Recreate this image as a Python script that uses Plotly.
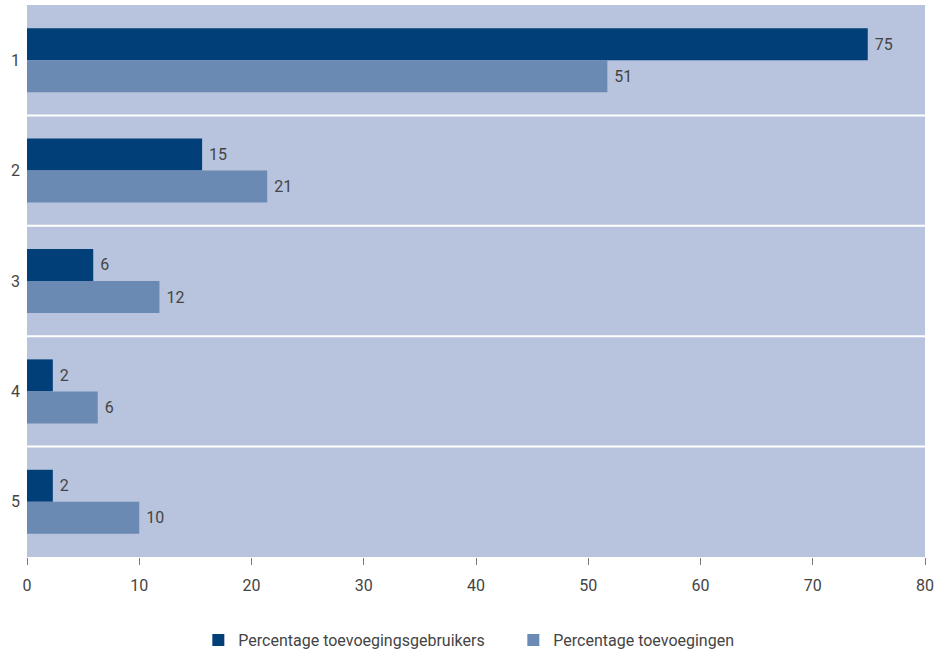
import plotly.graph_objects as go

# === Data ===
categories = ['1', '2', '3', '4', '5']
gebruikers = [74.9, 15.6, 5.9, 2.3, 2.3]
gebruikers_labels = ['75', '15', '6', '2', '2']
toevoegingen = [51.7, 21.4, 11.8, 6.3, 10.0]
toevoegingen_labels = ['51', '21', '12', '6', '10']
x_ticks = [0, 10, 20, 30, 40, 50, 60, 70, 80]

DARK = '#003f78'
LIGHT = '#6a89b3'
BG = '#b8c4dd'
TEXT = '#444444'
FONT = 'Roboto, sans-serif'

fig = go.Figure()

fig.add_trace(go.Bar(
    y=categories, x=gebruikers, orientation='h',
    name='Percentage toevoegingsgebruikers',
    marker=dict(color=DARK, line=dict(width=0)),
    text=[' ' + t for t in gebruikers_labels],
    textposition='outside', cliponaxis=False,
    textfont=dict(color=TEXT, size=16, family=FONT),
))
fig.add_trace(go.Bar(
    y=categories, x=toevoegingen, orientation='h',
    name='Percentage toevoegingen',
    marker=dict(color=LIGHT, line=dict(width=0)),
    text=[' ' + t for t in toevoegingen_labels],
    textposition='outside', cliponaxis=False,
    textfont=dict(color=TEXT, size=16, family=FONT),
))

# witte scheidingslijnen tussen de categorieen
for i in range(len(categories) - 1):
    fig.add_shape(type='line', xref='paper', yref='y',
                  x0=0, x1=1, y0=i + 0.5, y1=i + 0.5,
                  line=dict(color='white', width=2), layer='above')

fig.update_layout(
    width=945, height=652,
    barmode='group', bargap=0.42, bargroupgap=0,
    paper_bgcolor='white', plot_bgcolor=BG,
    font=dict(family=FONT, color=TEXT, size=16),
    margin=dict(l=27, r=20, t=5, b=95),
    showlegend=True,
    legend=dict(
        orientation='h', x=0.1908, xanchor='left',
        yref='container', y=0.0184, yanchor='middle',
        font=dict(size=16, color=TEXT, family=FONT),
        traceorder='normal', itemwidth=30,
        entrywidth=270, entrywidthmode='pixels',
    ),
)

fig.update_xaxes(
    range=[0, 80], tickvals=x_ticks, showgrid=False, zeroline=False,
    ticks='outside', ticklen=7, tickcolor='#777777', tickwidth=1,
    tickfont=dict(size=16, color=TEXT), showline=False, automargin=False,
    ticklabelstandoff=7,
)
fig.update_yaxes(
    autorange='reversed', showgrid=False, zeroline=False, ticks='',
    tickfont=dict(size=16, color=TEXT), ticklabelstandoff=6, automargin=False,
)

fig.write_html('out.html', config={'displayModeBar': False},
               post_script="document.body.style.margin='0';")
